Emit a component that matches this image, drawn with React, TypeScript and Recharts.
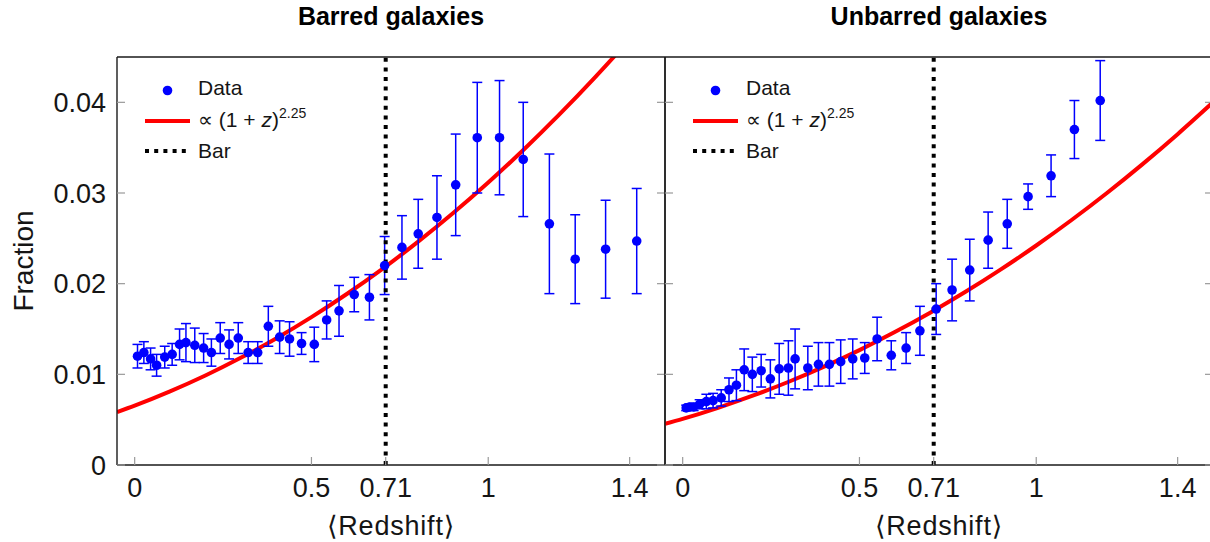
import React from 'react'
import {
  ComposedChart, Scatter, Line, XAxis, YAxis, ErrorBar, ReferenceLine, Legend,
} from 'recharts'

const xTicks = [0, 0.5, 0.71, 1, 1.4]
const yTicks = [0, 0.01, 0.02, 0.03, 0.04]
const barRedshift = 0.71

// barred galaxies: mean redshift, fraction, 1-sigma error
const barredZ = [
  0.008, 0.026, 0.045, 0.062, 0.085, 0.106, 0.127, 0.145, 0.170, 0.195, 0.217, 0.242, 0.267,
  0.293, 0.321, 0.348, 0.378, 0.410, 0.438, 0.472, 0.508, 0.543, 0.578, 0.621, 0.664, 0.707,
  0.756, 0.802, 0.855, 0.908, 0.969, 1.032, 1.099, 1.173, 1.246, 1.332, 1.420,
]
const barredFraction = [
  0.0120, 0.0124, 0.0117, 0.0110, 0.0119, 0.0122, 0.0133, 0.0135, 0.0132, 0.0129, 0.0124, 0.0140, 0.0133,
  0.0140, 0.0124, 0.0124, 0.0153, 0.0141, 0.0139, 0.0134, 0.0133, 0.0160, 0.0170, 0.0188, 0.0185, 0.0220,
  0.0240, 0.0255, 0.0273, 0.0309, 0.0361, 0.0361, 0.0337, 0.0266, 0.0227, 0.0238, 0.0247,
]
const barredError = [
  0.0013, 0.0012, 0.0012, 0.0012, 0.0012, 0.0012, 0.0017, 0.0021, 0.0019, 0.0016, 0.0015, 0.0017, 0.0016,
  0.0017, 0.0012, 0.0012, 0.0022, 0.0018, 0.0019, 0.0012, 0.0019, 0.0021, 0.0028, 0.0019, 0.0025, 0.0032,
  0.0035, 0.0038, 0.0046, 0.0056, 0.0061, 0.0063, 0.0063, 0.0077, 0.0049, 0.0054, 0.0058,
]

// unbarred galaxies
const unbarredZ = [
  0.010, 0.020, 0.031, 0.048, 0.067, 0.086, 0.109, 0.131, 0.152, 0.174, 0.197, 0.222, 0.248, 0.273,
  0.299, 0.318, 0.354, 0.384, 0.415, 0.447, 0.481, 0.515, 0.550, 0.590, 0.632, 0.671, 0.717, 0.762,
  0.812, 0.864, 0.918, 0.977, 1.042, 1.108, 1.181,
]
const unbarredFraction = [
  0.0063, 0.0064, 0.0064, 0.0067, 0.0070, 0.0071, 0.0074, 0.0083, 0.0088, 0.0105, 0.0100, 0.0104, 0.0095, 0.0106,
  0.0107, 0.0117, 0.0107, 0.0111, 0.0111, 0.0114, 0.0117, 0.0118, 0.0139, 0.0121, 0.0129, 0.0148, 0.0172, 0.0193,
  0.0215, 0.0248, 0.0266, 0.0296, 0.0319, 0.0370, 0.0402,
]
const unbarredError = [
  0.0003, 0.0003, 0.0004, 0.0005, 0.0008, 0.0008, 0.0009, 0.0013, 0.0017, 0.0023, 0.0019, 0.0018, 0.0021, 0.0028,
  0.0030, 0.0033, 0.0024, 0.0024, 0.0024, 0.0024, 0.0022, 0.0017, 0.0024, 0.0016, 0.0017, 0.0027, 0.0028, 0.0034,
  0.0034, 0.0031, 0.0027, 0.0014, 0.0023, 0.0032, 0.0044,
]

// (1+z)^2.25 curves
const fitZ = [-0.05, 0, 0.1, 0.2, 0.3, 0.4, 0.5, 0.6, 0.7, 0.8, 0.9, 1.0, 1.1, 1.2, 1.3, 1.4, 1.5]
const barredFit = [
  0.00584, 0.00655, 0.00812, 0.00987, 0.01182, 0.01396, 0.01631, 0.01886, 0.02161,
  0.02458, 0.02776, 0.03116, 0.03477, 0.03861, 0.04267, 0.04696, 0.05148,
]
const unbarredFit = [
  0.00454, 0.00509, 0.00631, 0.00767, 0.00918, 0.01085, 0.01267, 0.01466, 0.01680,
  0.01910, 0.02157, 0.02421, 0.02702, 0.03000, 0.03316, 0.03649, 0.04000,
]

const FONT = "'Liberation Sans', 'DejaVu Sans', sans-serif"
const BLUE = '#0000ff'
const RED = '#ff0000'
const FRAME = '#1a1a1a'
const TICK = '#9a9a9a'
const TEXT = '#151515'

const toRows = (z: number[], v: number[], e?: number[]) =>
  z.map((x, i) => ({ z: x, v: v[i], err: e ? e[i] : 0 }))

function LegendBox() {
  return (
    <svg width={240} height={100} style={{ display: 'block', fontFamily: FONT }}>
      <circle cx={27.5} cy={20.5} r={4.8} fill={BLUE} />
      <text x={58} y={24.5} fontSize={21} fill={TEXT}>Data</text>
      <line x1={5} x2={50} y1={51} y2={51} stroke={RED} strokeWidth={4} />
      <text x={58} y={57} fontSize={21} fill={TEXT}>
        {'∝ (1 + '}<tspan fontStyle="italic">z</tspan>{')'}
        <tspan fontSize={14} dy={-9}>2.25</tspan>
      </text>
      <line x1={5} x2={50} y1={81} y2={81} stroke="#000" strokeWidth={4} strokeDasharray="4 5.2" />
      <text x={58} y={88} fontSize={21} fill={TEXT}>Bar</text>
    </svg>
  )
}

interface PanelProps {
  title: string
  points: { z: number; v: number; err: number }[]
  fit: { z: number; v: number }[]
  left: number
  width: number
  yAxisWidth: number
  marginRight: number
  showYLabels: boolean
  legendLeft: number
}

function Panel(p: PanelProps) {
  const tickLine = { stroke: TICK, strokeWidth: 1.2 }
  const axisLine = { stroke: FRAME, strokeWidth: 1.4 }
  return (
    <div style={{ position: 'absolute', left: p.left, top: 0 }}>
      <ComposedChart
        width={p.width}
        height={542}
        margin={{ top: 56, right: p.marginRight, bottom: 0, left: 0 }}
      >
        <XAxis
          dataKey="z"
          type="number"
          domain={[-0.05, 1.5]}
          ticks={xTicks}
          interval={0}
          allowDataOverflow
          height={77}
          tickSize={-8}
          tickMargin={21}
          tickLine={tickLine}
          axisLine={axisLine}
          tick={{ fill: TEXT, fontSize: 27, fontFamily: FONT }}
          label={(lp: any) => (
            <text
              x={lp.viewBox.x + lp.viewBox.width / 2}
              y={535}
              textAnchor="middle"
              fontSize={27}
              letterSpacing={0.8}
              fontFamily={FONT}
              fill={TEXT}
            >
              ⟨Redshift⟩
            </text>
          )}
        />
        <XAxis
          xAxisId="top"
          orientation="top"
          type="number"
          domain={[-0.05, 1.5]}
          ticks={xTicks}
          interval={0}
          allowDataOverflow
          height={1}
          tickSize={-8}
          tickFormatter={() => ''}
          tickLine={tickLine}
          axisLine={axisLine}
          label={(lp: any) => (
            <text
              x={lp.viewBox.x + lp.viewBox.width / 2}
              y={25}
              textAnchor="middle"
              fontSize={25}
              fontWeight="bold"
              fontFamily={FONT}
              fill="#000"
            >
              {p.title}
            </text>
          )}
        />
        <YAxis
          type="number"
          domain={[0, 0.045]}
          ticks={yTicks}
          interval={0}
          allowDataOverflow
          width={p.yAxisWidth}
          tickSize={-8}
          tickMargin={19}
          tickLine={tickLine}
          axisLine={axisLine}
          tick={{ fill: TEXT, fontSize: 27, fontFamily: FONT }}
          tickFormatter={(v: number) => (p.showYLabels ? (v === 0 ? '0' : v.toFixed(2)) : '')}
          label={p.showYLabels ? (lp: any) => {
            const cy = lp.viewBox.y + lp.viewBox.height / 2
            return (
              <text
                x={33}
                y={cy}
                transform={`rotate(-90, 33, ${cy})`}
                textAnchor="middle"
                fontSize={28}
                fontFamily={FONT}
                fill={TEXT}
              >
                Fraction
              </text>
            )
          } : undefined}
        />
        <YAxis
          yAxisId="right"
          orientation="right"
          type="number"
          domain={[0, 0.045]}
          ticks={yTicks}
          interval={0}
          allowDataOverflow
          width={1}
          tickSize={-8}
          tickFormatter={() => ''}
          tickLine={tickLine}
          axisLine={axisLine}
        />
        <Legend
          layout="vertical"
          align="center"
          verticalAlign="middle"
          wrapperStyle={{ left: p.legendLeft, top: 70, width: 240, height: 100 }}
          content={() => <LegendBox />}
        />
        <Line
          data={p.fit}
          dataKey="v"
          type="monotone"
          stroke={RED}
          strokeWidth={4}
          dot={false}
          activeDot={false}
          isAnimationActive={false}
        />
        <Scatter
          data={p.points}
          dataKey="v"
          fill={BLUE}
          isAnimationActive={false}
          shape={(sp: any) => <circle cx={sp.cx} cy={sp.cy} r={4.8} fill={BLUE} />}
        >
          <ErrorBar
            dataKey="err"
            direction="y"
            width={5}
            stroke={BLUE}
            strokeWidth={1.5}
            isAnimationActive={false}
          />
        </Scatter>
        <ReferenceLine
          x={barRedshift}
          stroke="#000"
          strokeWidth={4}
          strokeDasharray="4 5.6"
        />
      </ComposedChart>
    </div>
  )
}

export default function App() {
  const barred = toRows(barredZ, barredFraction, barredError)
  const unbarred = toRows(unbarredZ, unbarredFraction, unbarredError)
  const fitB = toRows(fitZ, barredFit)
  const fitU = toRows(fitZ, unbarredFit)
  return (
    <div
      style={{
        position: 'fixed', left: 0, top: 0, width: 1210, height: 542,
        overflow: 'hidden', background: '#fff', fontFamily: FONT,
      }}
    >
      <Panel
        title="Barred galaxies"
        points={barred}
        fit={fitB}
        left={0}
        width={680}
        yAxisWidth={117}
        marginRight={14}
        showYLabels
        legendLeft={140}
      />
      <Panel
        title="Unbarred galaxies"
        points={unbarred}
        fit={fitU}
        left={600}
        width={620}
        yAxisWidth={65}
        marginRight={6}
        showYLabels={false}
        legendLeft={88}
      />
    </div>
  )
}
